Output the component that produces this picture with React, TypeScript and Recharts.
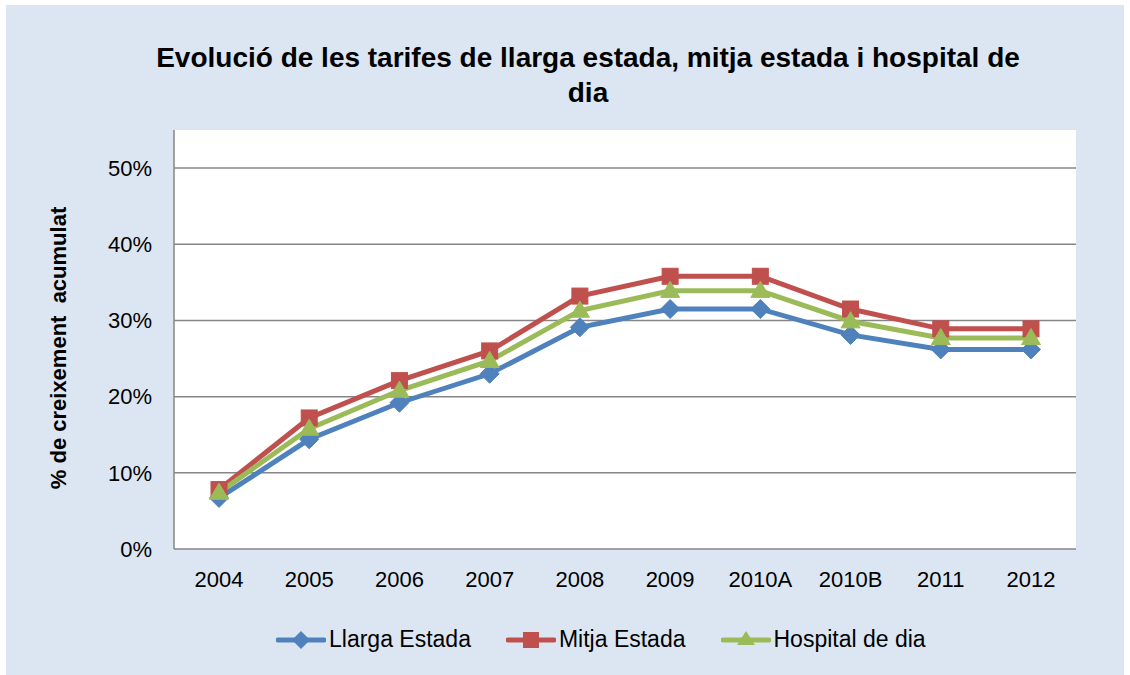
import React from 'react';
import { LineChart, Line, XAxis, YAxis, CartesianGrid, ReferenceLine } from 'recharts';

const categories = ['2004', '2005', '2006', '2007', '2008', '2009', '2010A', '2010B', '2011', '2012'];
const llargaEstada = [0.067, 0.144, 0.192, 0.230, 0.291, 0.315, 0.315, 0.281, 0.262, 0.262];
const mitjaEstada = [0.078, 0.172, 0.221, 0.260, 0.332, 0.358, 0.358, 0.315, 0.289, 0.289];
const hospitalDia = [0.074, 0.158, 0.208, 0.247, 0.313, 0.339, 0.339, 0.299, 0.277, 0.277];
const yTicks = [0, 0.1, 0.2, 0.3, 0.4, 0.5];

const BLUE = '#4F81BD';
const RED = '#C0504D';
const GREEN = '#9BBB59';
const FONT = '"Liberation Sans", Arial, sans-serif';

const data = categories.map((c, i) => ({
  cat: c,
  llarga: llargaEstada[i],
  mitja: mitjaEstada[i],
  hospital: hospitalDia[i],
}));

const Diamond = (p: any) => {
  const { cx, cy } = p;
  if (cx == null || cy == null) return null;
  const r = 9.5;
  return <path d={`M${cx},${cy - r}L${cx + r},${cy}L${cx},${cy + r}L${cx - r},${cy}Z`} fill={BLUE} stroke={BLUE} strokeWidth={1} />;
};
const Square = (p: any) => {
  const { cx, cy } = p;
  if (cx == null || cy == null) return null;
  const r = 8;
  return <rect x={cx - r} y={cy - r} width={2 * r} height={2 * r} fill={RED} stroke={RED} strokeWidth={1} />;
};
const Triangle = (p: any) => {
  const { cx, cy } = p;
  if (cx == null || cy == null) return null;
  const r = 9.5;
  return <path d={`M${cx},${cy - r}L${cx + r},${cy + r * 0.7}L${cx - r},${cy + r * 0.7}Z`} fill={GREEN} stroke={GREEN} strokeWidth={1} />;
};

const LegendItem = ({ color, label, shape }: { color: string; label: string; shape: string }) => (
  <div style={{ display: 'flex', alignItems: 'center', marginRight: 35 }}>
    <svg width={50} height={24} style={{ marginRight: 3 }}>
      <line x1={2} y1={12} x2={48} y2={12} stroke={color} strokeWidth={5} strokeLinecap="round" />
      {shape === 'diamond' && <path d="M25,3L34,12L25,21L16,12Z" fill={color} />}
      {shape === 'square' && <rect x={17} y={4} width={16} height={16} fill={color} />}
      {shape === 'triangle' && <path d="M25,3L34,17L16,17Z" fill={color} />}
    </svg>
    <span style={{ fontFamily: FONT, fontSize: 23, color: '#000' }}>{label}</span>
  </div>
);

export default function App() {
  return (
    <div style={{ position: 'absolute', left: 0, top: 0, width: 1130, height: 675, background: '#FFFFFF', overflow: 'hidden' }}>
      <div style={{ position: 'absolute', left: 6, top: 5, width: 1118, height: 670, background: '#DCE6F2' }} />
      <div style={{ position: 'absolute', left: 100, top: 40, width: 976, textAlign: 'center', fontFamily: FONT, fontWeight: 'bold', fontSize: 28, lineHeight: '35px', color: '#000' }}>
        <div>Evolució de les tarifes de llarga estada, mitja estada i hospital de</div>
        <div>dia</div>
      </div>
      <div style={{ position: 'absolute', left: 0, top: 0 }}>
        <LineChart width={1130} height={675} data={data} margin={{ top: 130, right: 54, left: 114, bottom: 86 }}>
          <CartesianGrid vertical={false} horizontal={false} fill="#FFFFFF" fillOpacity={1} />
          {yTicks.slice(1).map((t) => (
            <ReferenceLine key={`g${t}`} y={t} stroke="#868686" strokeWidth={1.5} ifOverflow="visible" />
          ))}
          <XAxis
            dataKey="cat"
            height={40}
            padding={{ left: 45, right: 45 }}
            axisLine={{ stroke: '#868686', strokeWidth: 1.5 }}
            tickLine={false}
            tickSize={0}
            tickMargin={22}
            tick={{ fill: '#000', fontSize: 22, fontFamily: FONT }}
            interval={0}
          />
          <YAxis
            width={60}
            domain={[0, 0.55]}
            ticks={yTicks}
            tickFormatter={(v: number) => `${Math.round(v * 100)}%`}
            axisLine={{ stroke: '#868686', strokeWidth: 1.5 }}
            tickLine={false}
            tickSize={0}
            tickMargin={22}
            tick={{ fill: '#000', fontSize: 22, fontFamily: FONT }}
            allowDataOverflow
          />
          <Line dataKey="llarga" name="Llarga Estada" stroke={BLUE} strokeWidth={5} isAnimationActive={false}
            dot={(p: any) => <Diamond key={`d${p.index}`} {...p} />} activeDot={false} />
          <Line dataKey="mitja" name="Mitja Estada" stroke={RED} strokeWidth={5} isAnimationActive={false}
            dot={(p: any) => <Square key={`s${p.index}`} {...p} />} activeDot={false} />
          <Line dataKey="hospital" name="Hospital de dia" stroke={GREEN} strokeWidth={5} isAnimationActive={false}
            dot={(p: any) => <Triangle key={`t${p.index}`} {...p} />} activeDot={false} />
        </LineChart>
      </div>
      <div style={{ position: 'absolute', left: 59, top: 348, transform: 'translate(-50%, -50%) rotate(-90deg)', whiteSpace: 'nowrap', fontFamily: FONT, fontWeight: 'bold', fontSize: 22, color: '#000' }}>
        % de creixement&nbsp; acumulat
      </div>
      <div style={{ position: 'absolute', left: 276, top: 626, display: 'flex', alignItems: 'center' }}>
        <LegendItem color={BLUE} label="Llarga Estada" shape="diamond" />
        <LegendItem color={RED} label="Mitja Estada" shape="square" />
        <LegendItem color={GREEN} label="Hospital de dia" shape="triangle" />
      </div>
    </div>
  );
}
